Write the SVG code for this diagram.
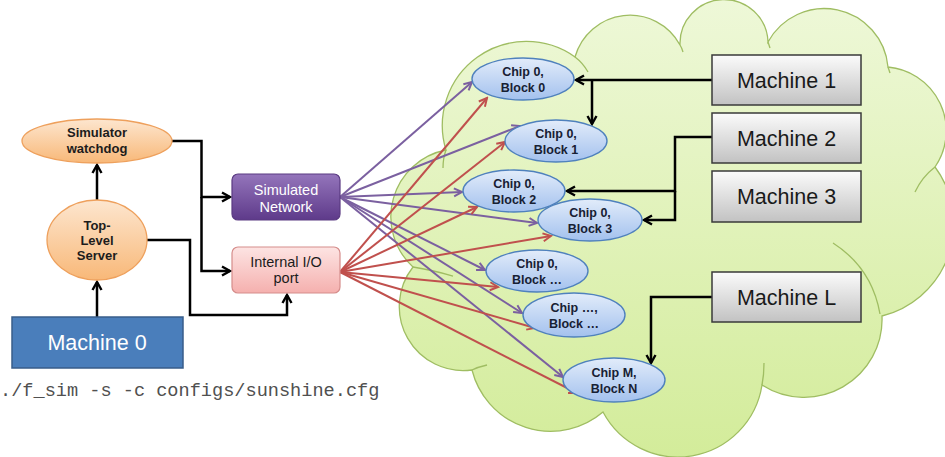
<svg xmlns="http://www.w3.org/2000/svg" width="945" height="457" viewBox="0 0 945 457">
  <defs>
    <linearGradient id="gCloud" x1="0" y1="0" x2="0" y2="1">
      <stop offset="0" stop-color="#eef8d8"/>
      <stop offset="1" stop-color="#d3ec9a"/>
    </linearGradient>
    <linearGradient id="gOrange" x1="0" y1="0" x2="0" y2="1">
      <stop offset="0" stop-color="#fde6cf"/>
      <stop offset="1" stop-color="#f8b878"/>
    </linearGradient>
    <linearGradient id="gBlue" x1="0" y1="0" x2="0" y2="1">
      <stop offset="0" stop-color="#e2ecfa"/>
      <stop offset="1" stop-color="#a3c1ee"/>
    </linearGradient>
    <linearGradient id="gGray" x1="0" y1="0" x2="0" y2="1">
      <stop offset="0" stop-color="#fbfbfb"/>
      <stop offset="1" stop-color="#c2c2c2"/>
    </linearGradient>
    <linearGradient id="gPurple" x1="0" y1="0" x2="0" y2="1">
      <stop offset="0" stop-color="#9475bb"/>
      <stop offset="1" stop-color="#5e3a8a"/>
    </linearGradient>
    <linearGradient id="gPink" x1="0" y1="0" x2="0" y2="1">
      <stop offset="0" stop-color="#fde4e3"/>
      <stop offset="1" stop-color="#f5b0ae"/>
    </linearGradient>
    <marker id="arrBlack" markerUnits="userSpaceOnUse" viewBox="0 0 12 12" markerWidth="12" markerHeight="12" refX="10" refY="6" orient="auto">
      <path d="M2,1.5 L10,6 L2,10.5" fill="none" stroke="#000" stroke-width="2.4"/>
    </marker>
    <marker id="arrPurple" markerUnits="userSpaceOnUse" viewBox="0 0 12 12" markerWidth="12" markerHeight="12" refX="10" refY="6" orient="auto">
      <path d="M2,2 L10,6 L2,10" fill="none" stroke="#7b60a0" stroke-width="2"/>
    </marker>
    <marker id="arrRed" markerUnits="userSpaceOnUse" viewBox="0 0 12 12" markerWidth="12" markerHeight="12" refX="10" refY="6" orient="auto">
      <path d="M2,2 L10,6 L2,10" fill="none" stroke="#c0504d" stroke-width="2"/>
    </marker>
  </defs>
  <style>
    text { font-family: "Liberation Sans", Arial, sans-serif; text-anchor: middle; }
    .bold { font-weight: bold; font-size: 13px; fill: #1c1c1c; }
    .chip ellipse { fill: url(#gBlue); stroke: #4f81bd; stroke-width: 1.4; }
    .chip text { font-weight: bold; font-size: 12.5px; fill: #172033; }
    .mach rect { fill: url(#gGray); stroke: #3a3a3a; stroke-width: 1.5; }
    .mach text { font-size: 21.5px; fill: #1a1a1a; }
    .orange { fill: url(#gOrange); stroke: #eea05c; stroke-width: 1.3; }
    .wire { fill: none; stroke: #000; stroke-width: 2.5; }
    .pl { stroke: #7b60a0; stroke-width: 2; marker-end: url(#arrPurple); }
    .rl { stroke: #c0504d; stroke-width: 2; marker-end: url(#arrRed); }
    .cloudline { fill: none; stroke: #9fbd62; stroke-width: 1.3; }
  </style>

  <rect width="945" height="457" fill="#ffffff"/>

  <!-- cloud backdrop for the remote machines -->
  <g id="cloud">
    <path d="M413,267 A68,68 0 0 1 446,150 A84,84 0 0 1 575,57 A57,57 0 0 1 680,45 A44,44 0 0 1 768,42 A64,64 0 0 1 888,67 A64,64 0 0 1 935,167 A95,95 0 0 1 882,316 A78,78 0 0 1 762,385 A85,85 0 0 1 603,412 A81,81 0 0 1 472,370 A64,64 0 0 1 413,267 Z" fill="url(#gCloud)" stroke="#9fbd62" stroke-width="1.3"/>
    <path class="cloudline" d="M413,267 Q432,270 453,276"/>
    <path class="cloudline" d="M446,150 Q443,158 443,168"/>
    <path class="cloudline" d="M575,57 Q583,63 588,72"/>
    <path class="cloudline" d="M680,45 Q682,48 683,52"/>
    <path class="cloudline" d="M768,42 Q769,45 770,48"/>
    <path class="cloudline" d="M888,67 Q889,70 890,73"/>
    <path class="cloudline" d="M935,167 Q922,177 915,192"/>
    <path class="cloudline" d="M880,314 Q872,268 833,243"/>
    <path class="cloudline" d="M762,385 Q764,375 764,363"/>
    <path class="cloudline" d="M472,370 Q478,367 487,365"/>
  </g>

  <g id="connectors">
    <!-- simulated network fan-out -->
    <line class="pl" x1="340" y1="197" x2="472" y2="82"/>
    <line class="pl" x1="340" y1="197" x2="520" y2="126"/>
    <line class="pl" x1="340" y1="197" x2="462" y2="192"/>
    <line class="pl" x1="340" y1="197" x2="537" y2="223"/>
    <line class="pl" x1="340" y1="197" x2="485" y2="270"/>
    <line class="pl" x1="340" y1="197" x2="522" y2="313"/>
    <line class="pl" x1="340" y1="197" x2="563" y2="377"/>
    <!-- internal I/O port fan-out -->
    <line class="rl" x1="340" y1="272" x2="487" y2="98"/>
    <line class="rl" x1="340" y1="272" x2="505" y2="142"/>
    <line class="rl" x1="340" y1="272" x2="477" y2="207"/>
    <line class="rl" x1="340" y1="272" x2="551" y2="236"/>
    <line class="rl" x1="340" y1="272" x2="498" y2="287"/>
    <line class="rl" x1="340" y1="272" x2="535" y2="328"/>
    <line class="rl" x1="340" y1="272" x2="577" y2="393"/>
    <!-- control wiring -->
    <path class="wire" d="M97,317 V282" marker-end="url(#arrBlack)"/>
    <path class="wire" d="M97,200 V165" marker-end="url(#arrBlack)"/>
    <path class="wire" d="M172,141 H201.5 V197 H230" marker-end="url(#arrBlack)"/>
    <path class="wire" d="M201.5,197 V271 H230" marker-end="url(#arrBlack)"/>
    <path class="wire" d="M147,240 H190 V315 H287 V295" marker-end="url(#arrBlack)"/>
    <path class="wire" d="M712,80 H576" marker-end="url(#arrBlack)"/>
    <path class="wire" d="M592,80 V124" marker-end="url(#arrBlack)"/>
    <path class="wire" d="M712,137 H675 V191 H567" marker-end="url(#arrBlack)"/>
    <path class="wire" d="M675,191 V220 H644" marker-end="url(#arrBlack)"/>
    <path class="wire" d="M712,297 H651 V363" marker-end="url(#arrBlack)"/>
  </g>

  <g id="watchdog">
    <ellipse class="orange" cx="97" cy="141" rx="75" ry="22"/>
    <text class="bold" x="97" y="137">Simulator</text>
    <text class="bold" x="97" y="153">watchdog</text>
  </g>
  <g id="top-level-server">
    <ellipse class="orange" cx="97" cy="240" rx="50" ry="40"/>
    <text class="bold" x="97" y="230">Top-</text>
    <text class="bold" x="97" y="245">Level</text>
    <text class="bold" x="97" y="260">Server</text>
  </g>
  <g id="machine-0">
    <rect x="12" y="317" width="171" height="51" fill="#4a7ebb" stroke="#385d8a" stroke-width="1.5"/>
    <text x="97" y="350" style="font-size:21.5px;fill:#ffffff">Machine 0</text>
  </g>
  <g id="simulated-network">
    <rect x="232" y="174" width="108" height="46" rx="6" fill="url(#gPurple)" stroke="#5a3a82" stroke-width="1.2"/>
    <text x="286" y="195" style="font-size:14.5px;fill:#ffffff">Simulated</text>
    <text x="286" y="212" style="font-size:14.5px;fill:#ffffff">Network</text>
  </g>
  <g id="internal-io-port">
    <rect x="232" y="247" width="108" height="46" rx="6" fill="url(#gPink)" stroke="#d58d8b" stroke-width="1.2"/>
    <text x="286" y="267" style="font-size:14.5px;fill:#1c1c1c">Internal I/O</text>
    <text x="286" y="283" style="font-size:14.5px;fill:#1c1c1c">port</text>
  </g>

  <g id="chip0-block0" class="chip">
    <ellipse cx="523" cy="79" rx="51" ry="21"/>
    <text x="523" y="76">Chip 0,</text>
    <text x="523" y="92">Block 0</text>
  </g>
  <g id="chip0-block1" class="chip">
    <ellipse cx="556" cy="141" rx="51" ry="21"/>
    <text x="556" y="138">Chip 0,</text>
    <text x="556" y="154">Block 1</text>
  </g>
  <g id="chip0-block2" class="chip">
    <ellipse cx="514" cy="191" rx="51" ry="21"/>
    <text x="514" y="188">Chip 0,</text>
    <text x="514" y="204">Block 2</text>
  </g>
  <g id="chip0-block3" class="chip">
    <ellipse cx="590" cy="220" rx="52" ry="21"/>
    <text x="590" y="217">Chip 0,</text>
    <text x="590" y="233">Block 3</text>
  </g>
  <g id="chip0-blockn" class="chip">
    <ellipse cx="537" cy="271" rx="51" ry="21"/>
    <text x="537" y="268">Chip 0,</text>
    <text x="537" y="284">Block …</text>
  </g>
  <g id="chipn-blockn" class="chip">
    <ellipse cx="574" cy="315" rx="51" ry="22"/>
    <text x="574" y="312">Chip …,</text>
    <text x="574" y="328">Block …</text>
  </g>
  <g id="chipm-blockn" class="chip">
    <ellipse cx="614" cy="380" rx="51" ry="22"/>
    <text x="614" y="377">Chip M,</text>
    <text x="614" y="393">Block N</text>
  </g>

  <g id="machine-1" class="mach">
    <rect x="712" y="55" width="149" height="50"/>
    <text x="786.5" y="87.5">Machine 1</text>
  </g>
  <g id="machine-2" class="mach">
    <rect x="712" y="113" width="149" height="50"/>
    <text x="786.5" y="145.5">Machine 2</text>
  </g>
  <g id="machine-3" class="mach">
    <rect x="712" y="171" width="149" height="51"/>
    <text x="786.5" y="204">Machine 3</text>
  </g>
  <g id="machine-l" class="mach">
    <rect x="712" y="272" width="149" height="50"/>
    <text x="786.5" y="304.5">Machine L</text>
  </g>

  <text x="0" y="396" style="font-family:'Liberation Mono','Courier New',monospace;font-size:18.6px;fill:#505050;text-anchor:start">./f_sim -s -c configs/sunshine.cfg</text>
</svg>
